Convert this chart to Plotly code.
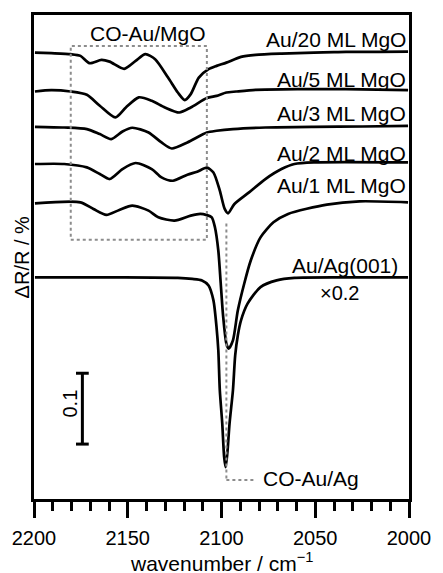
import plotly.graph_objects as go

# IRRAS spectra of CO on Au: wavenumber (cm^-1) and dR/R (%) relative to each spectrum's baseline
wn_20ml = [2199.5, 2190.8, 2180.4, 2175.2, 2170.4, 2164.0, 2159.7, 2151.9, 2145.8, 2140.6,
           2135.4, 2128.5, 2123.3, 2119.6, 2116.4, 2112.1, 2106.9, 2102.6, 2097.4, 2089.6,
           2081.8, 2068.0, 2050.7, 2040.0, 2033.6, 2016.1, 2000.5]
dr_20ml = [-0.0010, -0.0018, -0.0032, -0.0056, -0.0159, -0.0113, -0.0137, -0.0239, -0.0127, -0.0032,
           -0.0103, -0.0362, -0.0573, -0.0680, -0.0596, -0.0362, -0.0244, -0.0197, -0.0151, -0.0070,
           -0.0042, -0.0024, -0.0010, -0.0004, 0.0000, 0.0000, 0.0004]

wn_5ml = [2199.5, 2190.8, 2180.4, 2171.8, 2164.9, 2156.6, 2151.0, 2144.1, 2137.2, 2130.2,
          2122.5, 2116.4, 2107.8, 2102.6, 2097.4, 2092.2, 2081.8, 2059.5, 2033.6, 2000.5]
dr_5ml = [-0.0024, -0.0004, -0.0024, -0.0070, -0.0225, -0.0390, -0.0249, -0.0106, -0.0155, -0.0249,
          -0.0320, -0.0249, -0.0117, -0.0085, -0.0038, -0.0024, 0.0000, 0.0010, 0.0010, -0.0004]

wn_3ml = [2199.5, 2183.9, 2171.8, 2164.9, 2158.8, 2152.8, 2147.6, 2138.9, 2132.0, 2126.5,
          2118.2, 2107.8, 2102.6, 2093.9, 2076.6, 2050.7, 2024.7, 2000.5]
dr_3ml = [-0.0007, -0.0017, -0.0039, -0.0110, -0.0180, -0.0073, -0.0020, -0.0087, -0.0228, -0.0313,
          -0.0228, -0.0087, -0.0063, -0.0039, -0.0017, -0.0007, -0.0003, 0.0007]

wn_2ml = [2199.5, 2183.9, 2171.8, 2164.9, 2159.7, 2152.8, 2145.8, 2137.2, 2132.0, 2125.9,
          2118.2, 2113.0, 2107.8, 2104.3, 2100.9, 2098.3, 2096.5, 2093.1, 2085.3, 2076.6,
          2068.0, 2061.1, 2050.7, 2000.5]
dr_2ml = [-0.0018, -0.0018, -0.0066, -0.0159, -0.0230, -0.0089, -0.0004, -0.0089, -0.0207, -0.0254,
          -0.0169, -0.0127, -0.0070, -0.0137, -0.0394, -0.0652, -0.0714, -0.0582, -0.0418, -0.0230,
          -0.0089, -0.0018, 0.0004, 0.0004]

wn_1ml = [2199.5, 2175.2, 2168.3, 2161.4, 2154.5, 2147.6, 2138.9, 2133.7, 2125.1, 2116.4,
          2111.3, 2107.8, 2105.2, 2103.5, 2101.7, 2100.4, 2099.1, 2097.4, 2096.2, 2093.9,
          2091.3, 2087.9, 2084.4, 2079.2, 2072.3, 2064.5, 2043.8, 2026.4, 2000.5]
dr_1ml = [-0.0017, -0.0003, -0.0096, -0.0180, -0.0110, -0.0049, -0.0120, -0.0214, -0.0261, -0.0190,
          -0.0166, -0.0183, -0.0214, -0.0355, -0.0683, -0.1152, -0.1621, -0.1997, -0.2068, -0.1952,
          -0.1530, -0.1152, -0.0824, -0.0497, -0.0285, -0.0166, -0.0035, 0.0011, -0.0003]

# Au/Ag(001): measured values, displayed scaled by 0.2
wn_ag = [2199.5, 2154.5, 2123.3, 2115.6, 2110.4, 2106.9, 2104.3, 2102.6, 2101.7, 2100.9,
         2099.6, 2098.6, 2097.8, 2096.9, 2095.7, 2093.9, 2092.7, 2091.3, 2089.6, 2086.1,
         2079.2, 2070.6, 2061.1, 2035.1, 2000.5]
dr_ag = [0.0, 0.0, -0.0035, -0.0105, -0.021, -0.0565, -0.162, -0.359, -0.514, -0.796,
         -1.030, -1.266, -1.338, -1.242, -1.030, -0.796, -0.550, -0.409, -0.303, -0.185,
         -0.0685, -0.021, -0.0035, 0.0, 0.0]
ag_scale = 0.2

labels = ["Au/20 ML MgO", "Au/5 ML MgO", "Au/3 ML MgO", "Au/2 ML MgO", "Au/1 ML MgO", "Au/Ag(001)"]
offsets = [0.631, 0.5775, 0.526, 0.4746, 0.419, 0.3127]
xs = [wn_20ml, wn_5ml, wn_3ml, wn_2ml, wn_1ml, wn_ag]
ys = [dr_20ml, dr_5ml, dr_3ml, dr_2ml, dr_1ml, [v * ag_scale for v in dr_ag]]

# label vertical positions in data units
label_y = [0.6479, 0.5915, 0.5437, 0.4873, 0.4423, 0.3296]

scale_bar = 0.1          # % dR/R
scale_bar_x = 2174.2
scale_bar_y0 = 0.0775

FONT = "Liberation Sans, Arial, sans-serif"
DOT = "#8c8c8c"

fig = go.Figure()
for x, y, off in zip(xs, ys, offsets):
    fig.add_trace(go.Scatter(
        x=x, y=[off + v for v in y], mode="lines",
        line=dict(color="black", width=2.7, shape="spline", smoothing=0.7),
        hoverinfo="skip"))

annotations = []
for lab, ly in zip(labels, label_y):
    xr = 2004.8 if lab == "Au/Ag(001)" else 2000.8
    annotations.append(dict(x=xr, y=ly, xref="x", yref="y", text=lab, showarrow=False,
                            xanchor="right", yanchor="middle", font=dict(size=21)))
annotations += [
    dict(x=2037, y=0.2901, xref="x", yref="y", text="×0.2", showarrow=False,
         xanchor="center", yanchor="middle", font=dict(size=20)),
    dict(x=2139.2, y=0.6577, xref="x", yref="y", text="CO-Au/MgO", showarrow=False,
         xanchor="center", yanchor="middle", font=dict(size=21)),
    dict(x=2079.2, y=0.0296, xref="x", yref="y", text="CO-Au/Ag", showarrow=False,
         xanchor="left", yanchor="middle", font=dict(size=21)),
    dict(x=2180.9, y=scale_bar_y0 + scale_bar * 0.57, xref="x", yref="y", text=f"{scale_bar:g}",
         showarrow=False, textangle=-90, xanchor="center", yanchor="middle", font=dict(size=20)),
    dict(x=-0.031, y=0.5, xref="paper", yref="paper", text="ΔR/R / %", showarrow=False,
         textangle=-90, xanchor="center", yanchor="middle", font=dict(size=20)),
    dict(x=0.5, y=-0.131, xref="paper", yref="paper", text="wavenumber / cm<sup>−1</sup>",
         showarrow=False, xanchor="center", yanchor="middle", font=dict(size=21)),
]

shapes = [
    # region of CO on Au/MgO
    dict(type="rect", xref="x", yref="y", x0=2180.4, x1=2107.8, y0=0.3658, y1=0.6394,
         line=dict(color=DOT, width=2, dash="dot")),
    # marker for CO on Au/Ag
    dict(type="line", xref="x", yref="y", x0=2097.4, x1=2097.4, y0=0.3887, y1=0.0268,
         line=dict(color=DOT, width=2, dash="dot")),
    dict(type="line", xref="x", yref="y", x0=2097.4, x1=2081.8, y0=0.0268, y1=0.0268,
         line=dict(color=DOT, width=2, dash="dot")),
    # scale bar
    dict(type="line", xref="x", yref="y", x0=scale_bar_x, x1=scale_bar_x,
         y0=scale_bar_y0, y1=scale_bar_y0 + scale_bar, line=dict(color="black", width=3)),
    dict(type="line", xref="x", yref="y", x0=scale_bar_x - 3.4, x1=scale_bar_x + 3.4,
         y0=scale_bar_y0, y1=scale_bar_y0, line=dict(color="black", width=3)),
    dict(type="line", xref="x", yref="y", x0=scale_bar_x - 3.4, x1=scale_bar_x + 3.4,
         y0=scale_bar_y0 + scale_bar, y1=scale_bar_y0 + scale_bar, line=dict(color="black", width=3)),
]

fig.update_layout(
    width=443, height=573,
    margin=dict(l=32, r=25, t=14, b=74, pad=0),
    paper_bgcolor="white", plot_bgcolor="white",
    showlegend=False,
    font=dict(family=FONT, color="black", size=20),
    annotations=annotations, shapes=shapes,
    xaxis=dict(range=[2200, 2000], tickmode="linear", tick0=2000, dtick=50,
               ticks="outside", ticklen=16, tickwidth=2.5, tickcolor="black",
               ticklabelstandoff=3,
               minor=dict(tickmode="linear", tick0=2000, dtick=10, ticks="outside",
                          ticklen=9, tickwidth=2.5, tickcolor="black", showgrid=False),
               showline=True, linewidth=3, linecolor="black", mirror=True,
               showgrid=False, zeroline=False, tickfont=dict(size=20)),
    yaxis=dict(range=[0, 0.6831], showticklabels=False, ticks="",
               showline=True, linewidth=3, linecolor="black", mirror=True,
               showgrid=False, zeroline=False),
)

fig.write_html("out.html")
